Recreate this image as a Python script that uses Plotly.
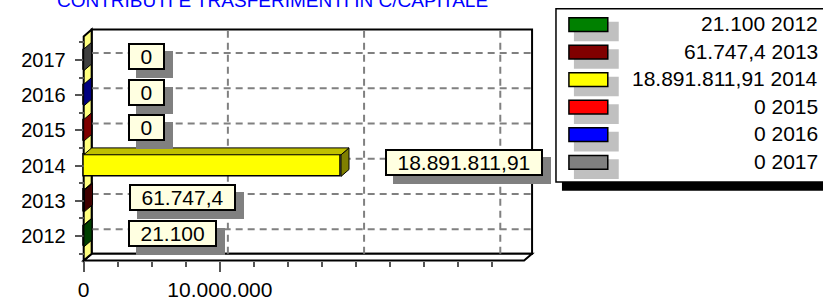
import plotly.graph_objects as go

# ---------------- data ----------------
years = ["2012", "2013", "2014", "2015", "2016", "2017"]
values = [21100, 61747.4, 18891811.91, 0, 0, 0]
colors = ["#008000", "#800000", "#FFFF00", "#FF0000", "#0000FF", "#808080"]
x_tick_vals = [0, 10_000_000, 20_000_000, 30_000_000]
x_tick_text = ["0", "10.000.000", "", ""]
x_minor_vals = [2_500_000 * k for k in range(13)]
title_text = "CONTRIBUTI E TRASFERIMENTI IN C/CAPITALE"

FONT = "Liberation Sans, Arial, sans-serif"
W, H = 823, 301

# ---------------- geometry (pixels) ----------------
PX_X0 = 81          # front x = 0
PX_PER_10M = 136.7
PX_YCAT0 = 240      # first category (front)
PX_PER_CAT = 35.8
PX_BOX_RIGHT = 531  # right edge of back plane
PX_FLOOR = 265      # front floor edge
PX_TOP = 30         # top edge of back plane
DEPTH_X, DEPTH_Y = 8, 7
BAR_PX = 22
PAD = 3

kx = PX_PER_10M / 1e7
DX = DEPTH_X / kx
DY = DEPTH_Y / PX_PER_CAT
bw = BAR_PX / PX_PER_CAT

x_box_right = (PX_BOX_RIGHT - PX_X0) / kx
x_front_max = x_box_right - DX
y_floor = -(PX_FLOOR - PX_YCAT0) / PX_PER_CAT
y_top = (PX_YCAT0 - PX_TOP) / PX_PER_CAT
y_front_top = y_top - DY

dom_x = [(PX_X0 - PAD) / W, (PX_BOX_RIGHT + PAD) / W]
dom_y = [(H - (PX_FLOOR + PAD)) / H, (H - (PX_TOP - PAD)) / H]
x_range = [-PAD / kx, (PX_BOX_RIGHT + PAD - PX_X0) / kx]
y_range = [y_floor - PAD / PX_PER_CAT, y_top + PAD / PX_PER_CAT]


def px(x):
    return x / W


def py(y):
    return 1 - y / H


def shade(hexc, f):
    r, g, b = int(hexc[1:3], 16), int(hexc[3:5], 16), int(hexc[5:7], 16)
    return f"rgb({int(r * f)},{int(g * f)},{int(b * f)})"


def fmt_it(v):
    s = f"{v:,.2f}".replace(",", "X").replace(".", ",").replace("X", ".")
    s = s.rstrip("0").rstrip(",")
    return s


labels = [fmt_it(v) for v in values]
idx = list(range(len(years)))

fig = go.Figure()
fig.add_trace(go.Bar(
    y=idx, x=values, orientation="h", width=bw,
    marker=dict(color=colors, line=dict(color="black", width=1.5)),
    hoverinfo="skip", showlegend=False,
))

shapes = []
# back plane
shapes.append(dict(type="rect", xref="x", yref="y", x0=DX, x1=x_box_right,
                   y0=y_floor + DY, y1=y_top, line=dict(color="black", width=2),
                   fillcolor="white", layer="below"))
# floor
shapes.append(dict(type="path", xref="x", yref="y",
                   path=f"M 0,{y_floor} L {x_front_max},{y_floor} L {x_box_right},{y_floor + DY} "
                        f"L {DX},{y_floor + DY} Z",
                   line=dict(color="black", width=2), fillcolor="white", layer="below"))
# left wall
shapes.append(dict(type="path", xref="x", yref="y",
                   path=f"M 0,{y_floor} L 0,{y_front_top} L {DX},{y_top} L {DX},{y_floor + DY} Z",
                   line=dict(color="black", width=2), fillcolor="#FFFF80", layer="below"))
# gridlines on back plane
GRID = dict(color="#808080", width=2, dash="7px,5px")
for t in x_tick_vals[1:]:
    shapes.append(dict(type="line", xref="x", yref="y", x0=t + DX, x1=t + DX,
                       y0=y_floor + DY, y1=y_top, line=GRID, layer="below"))
for i in idx:
    shapes.append(dict(type="line", xref="x", yref="y", x0=DX, x1=x_box_right,
                       y0=i + DY, y1=i + DY, line=GRID, layer="below"))
# 3D faces of bars
for i, v, c in zip(idx, values, colors):
    lo, hi = i - bw / 2, i + bw / 2
    shapes.append(dict(type="path", xref="x", yref="y",
                       path=f"M {v},{lo} L {v},{hi} L {v + DX},{hi + DY} L {v + DX},{lo + DY} Z",
                       fillcolor=shade(c, 0.5), line=dict(color="black", width=1), layer="above"))
    if v > 0:
        shapes.append(dict(type="path", xref="x", yref="y",
                           path=f"M 0,{hi} L {v},{hi} L {v + DX},{hi + DY} L {DX},{hi + DY} Z",
                           fillcolor=shade(c, 0.75), line=dict(color="black", width=1), layer="above"))

# legend (manual, right-aligned text)
LEG_L, LEG_T, LEG_B = 555, 9, 185
shapes.append(dict(type="rect", xref="paper", yref="paper", x0=px(561), x1=px(830),
                   y0=py(194), y1=py(LEG_B), fillcolor="black", line=dict(width=0)))
shapes.append(dict(type="rect", xref="paper", yref="paper", x0=px(LEG_L), x1=px(830),
                   y0=py(LEG_B), y1=py(LEG_T), fillcolor="white",
                   line=dict(color="black", width=1.5)))
annotations = []
for r, (yr, lab, c) in enumerate(zip(years, labels, colors)):
    top = 18 + 28 * r
    shapes.append(dict(type="rect", xref="paper", yref="paper", x0=px(573), x1=px(618),
                       y0=py(top + 24), y1=py(top + 4), fillcolor="#C0C0C0", line=dict(width=0)))
    shapes.append(dict(type="rect", xref="paper", yref="paper", x0=px(568), x1=px(607),
                       y0=py(top + 14), y1=py(top), fillcolor=c,
                       line=dict(color="black", width=1.5)))
    annotations.append(dict(xref="paper", yref="paper", x=px(820), y=py(top + 6),
                            xanchor="right", yanchor="middle", showarrow=False,
                            text=f"{lab} {yr}", font=dict(family=FONT, size=21, color="black")))

# data labels with shadow
SP = "\u2002"
for i, v, lab in zip(idx, values, labels):
    txt = SP + lab + SP
    annotations.append(dict(xref="x", yref="y", x=v, y=i, xanchor="left", yanchor="middle",
                            xshift=44 + 8, yshift=3 - 8, showarrow=False, text=txt,
                            font=dict(family=FONT, size=21, color="#808080"),
                            bgcolor="#808080", bordercolor="#808080", borderwidth=2, borderpad=0))
    annotations.append(dict(xref="x", yref="y", x=v, y=i, xanchor="left", yanchor="middle",
                            xshift=44, yshift=3, showarrow=False, text=txt,
                            font=dict(family=FONT, size=21, color="black"),
                            bgcolor="#FFFFE1", bordercolor="black", borderwidth=2, borderpad=0))

# title (cut off at the top as in the reference)
annotations.append(dict(xref="paper", yref="paper", x=px(53), y=py(12), xanchor="left",
                        yanchor="bottom", showarrow=False, text=title_text, borderpad=0,
                        font=dict(family=FONT, size=19, color="#0000FF")))

fig.update_layout(
    width=W, height=H, autosize=False,
    margin=dict(l=0, r=0, t=0, b=0, pad=0),
    paper_bgcolor="white", plot_bgcolor="rgba(0,0,0,0)",
    showlegend=False, shapes=shapes, annotations=annotations,
    bargap=0,
    xaxis=dict(domain=dom_x, range=x_range, anchor="free", position=(H - PX_FLOOR) / H,
               showgrid=False, zeroline=False, showline=False,
               tickmode="array", tickvals=x_tick_vals, ticktext=x_tick_text,
               ticks="outside", ticklen=10, tickwidth=2, tickcolor="#555555",
               minor=dict(tickvals=x_minor_vals, ticks="outside", ticklen=5,
                          tickwidth=2, tickcolor="#555555"),
               tickfont=dict(family=FONT, size=21, color="black")),
    yaxis=dict(domain=dom_y, range=y_range, anchor="free", position=PX_X0 / W,
               showgrid=False, zeroline=False, showline=False,
               tickmode="array", tickvals=idx, ticktext=years,
               ticks="outside", ticklen=9, tickwidth=2, tickcolor="#555555",
               ticklabelstandoff=5,
               minor=dict(tickvals=[i - 0.5 for i in idx] + [idx[-1] + 0.5], ticks="outside",
                          ticklen=5, tickwidth=2, tickcolor="#555555"),
               tickfont=dict(family=FONT, size=20, color="black")),
)

fig.write_html(
    "out.html",
    config={"displayModeBar": False},
    post_script="document.body.style.margin='0';document.body.style.overflow='hidden';",
)
